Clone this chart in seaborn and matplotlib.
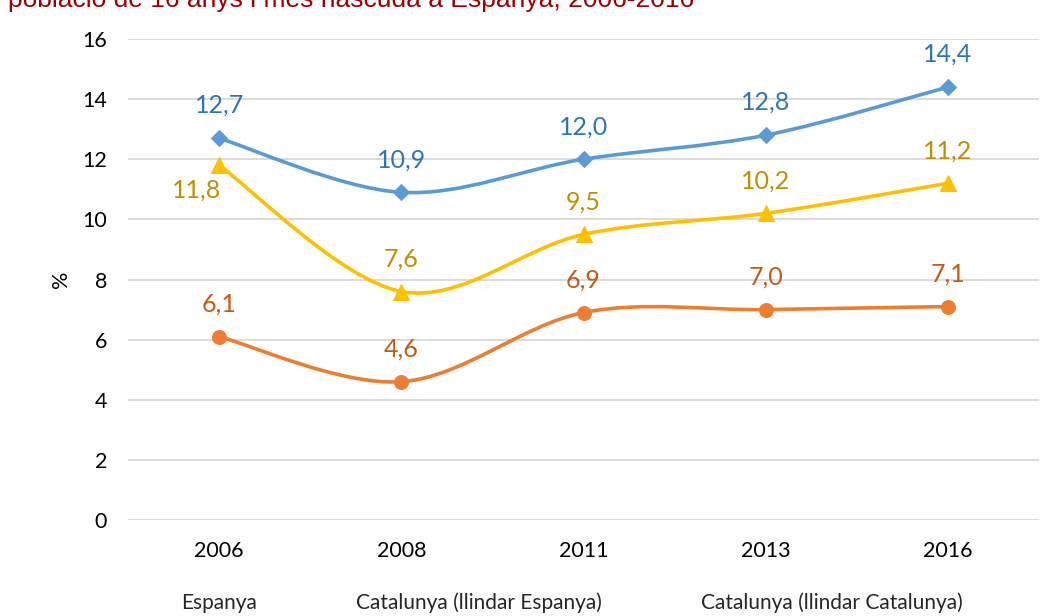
import matplotlib
matplotlib.use("Agg")
import matplotlib.pyplot as plt
from matplotlib.path import Path
from matplotlib.patches import PathPatch
from matplotlib.lines import Line2D
import pandas as pd
import seaborn as sns

years = ["2006", "2008", "2011", "2013", "2016"]
espanya = [12.7, 10.9, 12.0, 12.8, 14.4]
cat_llindar_esp = [6.1, 4.6, 6.9, 7.0, 7.1]
cat_llindar_cat = [11.8, 7.6, 9.5, 10.2, 11.2]

series_names = ["Espanya", "Catalunya (llindar Espanya)", "Catalunya (llindar Catalunya)"]
series_values = [espanya, cat_llindar_esp, cat_llindar_cat]
line_colors = ["#5B9BD5", "#ED7D31", "#FFC000"]
label_colors = ["#2E75B6", "#C55A11", "#BF9000"]
markers = ["D", "o", "^"]
marker_sizes = [8.5, 10, 11]


def smooth_path(xs, ys):
    # Excel-like smoothed line: cubic bezier with catmull-rom control points
    n = len(xs)
    verts = [(xs[0], ys[0])]
    codes = [Path.MOVETO]
    for i in range(n - 1):
        p0 = max(i - 1, 0)
        p3 = min(i + 2, n - 1)
        c1 = (xs[i] + (xs[i + 1] - xs[p0]) / 6, ys[i] + (ys[i + 1] - ys[p0]) / 6)
        c2 = (xs[i + 1] - (xs[p3] - xs[i]) / 6, ys[i + 1] - (ys[p3] - ys[i]) / 6)
        verts += [c1, c2, (xs[i + 1], ys[i + 1])]
        codes += [Path.CURVE4] * 3
    return Path(verts, codes)


def fmt(v):
    return f"{v:.1f}".replace(".", ",")


sns.set_theme(style="white")
plt.rcParams["font.family"] = ["Lato", "DejaVu Sans"]

fig = plt.figure(figsize=(10.51, 6.16), dpi=100)
ax = fig.add_axes([0.1218, 0.1558, 0.8668, 0.7809])

xpos = list(range(len(years)))
for name, vals, lc, tc, mk, ms in zip(series_names, series_values, line_colors,
                                        label_colors, markers, marker_sizes):
    ax.add_patch(PathPatch(smooth_path(xpos, vals), facecolor="none", edgecolor=lc,
                           lw=2.6, zorder=3, capstyle="round"))
    df = pd.DataFrame({"x": xpos, "y": vals})
    sns.lineplot(data=df, x="x", y="y", ax=ax, linestyle="none", marker=mk,
                 markersize=ms, color=lc, markeredgecolor=lc, zorder=4)
    for i, v in enumerate(vals):
        dx, dy = 0, 23.5
        if name == "Catalunya (llindar Catalunya)" and i == 0:
            dx, dy = -16, -18
        ax.annotate(fmt(v), (i, v), xytext=(dx, dy), textcoords="offset points",
                    ha="center", va="center", color=tc, fontsize=18)

ax.set_xlim(-0.5, len(years) - 0.5)
ax.set_ylim(0, 16)
ax.set_yticks(range(0, 17, 2))
ax.set_xticks(xpos)
ax.set_xticklabels(years)
ax.grid(axis="y", color="#D9D9D9", lw=1.3)
ax.set_axisbelow(True)
for s in ax.spines.values():
    s.set_visible(False)
ax.tick_params(axis="both", length=0, labelsize=15.5, colors="#000000")
ax.tick_params(axis="x", pad=15)
ax.tick_params(axis="y", pad=15)
ax.set_xlabel("")
ax.set_ylabel("%", fontsize=15.5, color="#000000")
ax.yaxis.set_label_coords(-0.063, 0.5)

handles = [Line2D([], [], linestyle="none") for _ in series_names]
fig.legend(handles, series_names, loc="center", bbox_to_anchor=(0.5445, 0.021),
           ncol=3, frameon=False, handlelength=0, handletextpad=0,
           columnspacing=4.75, fontsize=15)

fig.text(0.008, 1 - 7 / 616, "població de 16 anys i més nascuda a Espanya, 2006-2016",
         family=["Liberation Sans", "DejaVu Sans"], fontsize=19, color="#990000",
         ha="left", va="baseline")

fig.savefig("out.png", dpi=100, facecolor="white")
